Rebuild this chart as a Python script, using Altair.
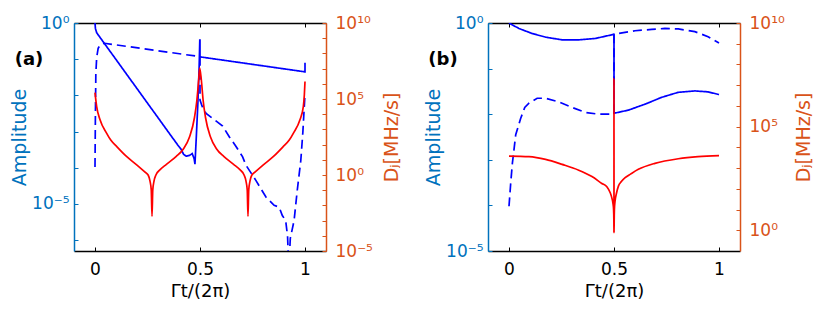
import altair as alt
import pandas as pd

FONT = "DejaVu Sans"
AX_BLUE = "#0072BD"
AX_ORANGE = "#D95319"
LINE_BLUE = "#0000FF"
LINE_RED = "#FF0000"

X_DOMAIN = [-0.1, 1.1]
X_TICKS = [0, 0.5, 1]

# ---------------- panel (a) ----------------
A_SOLID_T = [0, 0.002, 0.008, 0.395, 0.41, 0.422, 0.434, 0.45, 0.463, 0.472, 0.476,
             0.482, 0.49, 0.496, 0.499, 0.5, 0.5, 0.505, 1.0, 1.0]
A_SOLID_LOG = [0, -0.15, -0.27, -3.38, -3.49, -3.63, -3.68, -3.66, -3.61, -3.75, -3.9,
               -3.2, -2.2, -1.2, -0.47, -0.47, -0.93, -0.94, -1.35, -1.1]
# blue dashed amplitude
A_DASH_T = [0, 0.002, 0.004, 0.008, 0.015, 0.025, 0.045, 0.5, 0.5, 0.51, 0.529, 0.561,
            0.608, 0.64, 0.67, 0.703, 0.719, 0.766, 0.814, 0.853, 0.877, 0.892, 0.908,
            0.917, 0.923, 0.93, 0.948, 0.963, 0.98, 0.99, 1.0]
A_DASH_LOG = [-3.98, -2.5, -1.4, -0.95, -0.7, -0.6, -0.56, -0.93, -2.13, -2.3, -2.5, -2.64,
              -2.85, -3.15, -3.4, -3.7, -3.93, -4.35, -4.81, -5.04, -5.09, -5.32, -5.46,
              -5.9, -6.8, -5.95, -5.46, -4.63, -3.8, -3.0, -1.95]
A_RED_T = [0, 0.008, 0.024, 0.055, 0.075, 0.103, 0.15, 0.2, 0.237, 0.253, 0.262, 0.268,
           0.2715, 0.275, 0.281, 0.29, 0.31, 0.34, 0.387, 0.42, 0.45, 0.474, 0.485, 0.494,
           0.4985, 0.506, 0.515, 0.526, 0.55, 0.58, 0.613, 0.66, 0.69, 0.71, 0.719, 0.725,
           0.7285, 0.732, 0.738, 0.747, 0.763, 0.8, 0.85, 0.897, 0.925, 0.945, 0.976, 0.992,
           0.997, 1.0]
A_RED_LOG = [5.42, 4.5, 3.63, 2.76, 2.3, 1.88, 1.22, 0.65, 0.2, 0.0, -0.4, -1.0,
             -2.72, -1.0, -0.4, 0.0, 0.35, 0.7, 1.22, 1.7, 2.5, 3.8, 4.9, 6.3,
             7.03, 6.3, 4.9, 3.8, 2.5, 1.7, 1.22, 0.7, 0.35, 0.0, -0.4, -1.0,
             -2.72, -1.0, -0.4, 0.0, 0.2, 0.65, 1.22, 1.88, 2.3, 2.76, 3.63, 4.5,
             5.3, 6.15]

# ---------------- panel (b) ----------------
B_SOLID_T = [0, 0.047, 0.11, 0.174, 0.253, 0.332, 0.41, 0.498, 0.5, 0.5, 0.569, 0.648,
             0.727, 0.806, 0.885, 0.948, 1.0]
B_SOLID_LOG = [0, -0.12, -0.23, -0.31, -0.37, -0.37, -0.34, -0.25, -0.25, -1.98, -1.91,
               -1.78, -1.63, -1.52, -1.49, -1.51, -1.57]
B_DASH_T = [0, 0.008, 0.016, 0.032, 0.055, 0.075, 0.095, 0.134, 0.174, 0.237, 0.3, 0.363,
            0.427, 0.49, 0.5, 0.5, 0.521, 0.6, 0.68, 0.742, 0.806, 0.885, 0.948, 1.0]
B_DASH_LOG = [-4.02, -3.52, -3.08, -2.45, -2.1, -1.85, -1.76, -1.65, -1.65, -1.73, -1.85,
              -1.96, -2.0, -2.0, -1.98, -0.25, -0.23, -0.17, -0.14, -0.12, -0.13, -0.19,
              -0.30, -0.44]
B_RED_T = [0, 0.095, 0.174, 0.253, 0.332, 0.395, 0.442, 0.466, 0.482, 0.49, 0.495, 0.498,
           0.4993, 0.4998, 0.5, 0.5002, 0.501, 0.502, 0.505, 0.511, 0.521, 0.535, 0.553,
           0.58, 0.616, 0.695, 0.806, 0.9, 1.0]
B_RED_LOG = [3.58, 3.55, 3.42, 3.18, 2.9, 2.59, 2.26, 2.1, 1.81, 1.55, 1.3, 1.0,
             0.5, -0.11, 7.32, -0.11, 0.53, 1.01, 1.4, 1.75, 2.13, 2.35, 2.54,
             2.72, 2.94, 3.23, 3.45, 3.55, 3.6]

# axis ranges and ticks (exponents of 10)
A_LEFT_DOMAIN = [5e-7, 1]
A_LEFT_TICK_EXP = [0, -1, -2, -3, -4, -5, -6]
A_LEFT_LABEL_EXP = [0, -5]
A_RIGHT_DOMAIN = [1e-5, 1e10]
A_RIGHT_TICK_EXP = list(range(10, -6, -1))
A_RIGHT_LABEL_EXP = [10, 5, 0, -5]

B_LEFT_DOMAIN = [1e-5, 1]
B_LEFT_TICK_EXP = [0, -1, -2, -3, -4, -5]
B_LEFT_LABEL_EXP = [0, -5]
B_RIGHT_DOMAIN = [1e-1, 1e10]
B_RIGHT_TICK_EXP = list(range(10, -1, -1))
B_RIGHT_LABEL_EXP = [10, 5, 0]

SUP = {"0": "⁰", "1": "¹", "2": "²", "3": "³", "4": "⁴", "5": "⁵", "6": "⁶",
       "7": "⁷", "8": "⁸", "9": "⁹", "-": "⁻"}


def sup_label(e):
    return "10" + "".join(SUP[c] for c in str(e))


def label_expr(exps):
    expr = "''"
    for e in exps:
        expr = f"round(log(datum.value)/LN10) == {e} ? '{sup_label(e)}' : ({expr})"
    return expr


def blue_frame(st, sl, dt, dl):
    rows = []
    i = 0
    for t, l in zip(st, sl):
        rows.append({"t": t, "A": 10 ** l, "style": "solid", "i": i}); i += 1
    for t, l in zip(dt, dl):
        rows.append({"t": t, "A": 10 ** l, "style": "dashed", "i": i}); i += 1
    return pd.DataFrame(rows)


def red_frame(rt, rl):
    return pd.DataFrame({"t": rt, "D": [10 ** v for v in rl], "i": list(range(len(rt)))})


W, H = 252, 228
XS = alt.Scale(domain=X_DOMAIN, nice=False, zero=False)
TICK = 4
LW = 1.7


def panel(tag, bdf, rdf, ldom, ltick, llab, rdom, rtick, rlab):
    lscale = alt.Scale(type="log", domain=ldom, nice=False)
    rscale = alt.Scale(type="log", domain=rdom, nice=False)

    blue = alt.Chart(bdf).mark_line(strokeWidth=LW, color=LINE_BLUE, clip=True).encode(
        x=alt.X("t:Q", scale=XS, axis=alt.Axis(
            orient="bottom", values=X_TICKS, format="~g", title="Γt/(2π)",
            ticks=False, tickSize=0, domainColor="black", domainWidth=1.5,
            labelColor="black", labelFont=FONT, labelFontSize=17, labelPadding=10,
            titleFont=FONT, titleFontSize=18, titleFontWeight="normal",
            titleColor="black", titlePadding=5, grid=False)),
        y=alt.Y("A:Q", scale=lscale, axis=alt.Axis(
            orient="left", values=[10.0 ** e for e in llab], labelExpr=label_expr(llab),
            title="Amplitude", ticks=False, tickSize=0, domainColor=AX_BLUE,
            domainWidth=1.5, labelColor=AX_BLUE, labelFont=FONT, labelFontSize=17,
            labelPadding=5, titleFont=FONT, titleFontSize=19, titleFontWeight="normal",
            titleColor=AX_BLUE, titlePadding=2, grid=False)),
        strokeDash=alt.StrokeDash("style:N", scale=alt.Scale(
            domain=["solid", "dashed"], range=[[1, 0], [9, 5]]), legend=None),
        order="i:Q",
    )

    red = alt.Chart(rdf).mark_line(strokeWidth=LW, color=LINE_RED, clip=True,
                                   interpolate="monotone").encode(
        x=alt.X("t:Q", scale=XS, axis=alt.Axis(
            orient="top", labels=False, ticks=False, tickSize=0, title=None,
            domainColor="black", domainWidth=1.5, grid=False)),
        y=alt.Y("D:Q", scale=rscale, axis=alt.Axis(
            orient="right", values=[10.0 ** e for e in rlab], labelExpr=label_expr(rlab),
            title="Dⱼ[MHz/s]", ticks=False, tickSize=0, domainColor=AX_ORANGE,
            domainWidth=1.5, labelColor=AX_ORANGE, labelFont=FONT, labelFontSize=17,
            labelPadding=9, titleFont=FONT, titleFontSize=19, titleFontWeight="normal",
            titleColor=AX_ORANGE, titlePadding=10, titleAngle=270,
            titleBaseline="top", grid=False)),
        order="i:Q",
    )

    # inward tick marks (MATLAB style) drawn as offset axes
    lt = alt.Chart(bdf).mark_point(opacity=0).encode(
        x=alt.X("t:Q", scale=XS, axis=alt.Axis(
            orient="bottom", values=X_TICKS, offset=-TICK, tickSize=TICK, domain=False,
            labels=False, title=None, tickColor="black", grid=False)),
        y=alt.Y("A:Q", scale=lscale, axis=alt.Axis(
            orient="left", values=[10.0 ** e for e in ltick], offset=-TICK, tickSize=TICK,
            domain=False, labels=False, title=None, tickColor=AX_BLUE, grid=False)),
    )
    rt = alt.Chart(rdf).mark_point(opacity=0).encode(
        x=alt.X("t:Q", scale=XS, axis=alt.Axis(
            orient="top", values=X_TICKS, offset=-TICK, tickSize=TICK, domain=False,
            labels=False, title=None, tickColor="black", grid=False)),
        y=alt.Y("D:Q", scale=rscale, axis=alt.Axis(
            orient="right", values=[10.0 ** e for e in rtick], offset=-TICK, tickSize=TICK,
            domain=False, labels=False, title=None, tickColor=AX_ORANGE, grid=False)),
    )

    lab = alt.Chart(pd.DataFrame({"tag": [tag]})).mark_text(
        font=FONT, fontSize=18, fontWeight="bold", color="black", align="center",
        baseline="middle").encode(text="tag:N", x=alt.value(-45), y=alt.value(37))

    return alt.layer(blue, red, lt, rt, lab).resolve_scale(y="independent").resolve_axis(
        x="independent", y="independent").properties(width=W, height=H)


pa = panel("(a)", blue_frame(A_SOLID_T, A_SOLID_LOG, A_DASH_T, A_DASH_LOG),
           red_frame(A_RED_T, A_RED_LOG), A_LEFT_DOMAIN, A_LEFT_TICK_EXP, A_LEFT_LABEL_EXP,
           A_RIGHT_DOMAIN, A_RIGHT_TICK_EXP, A_RIGHT_LABEL_EXP)
pb = panel("(b)", blue_frame(B_SOLID_T, B_SOLID_LOG, B_DASH_T, B_DASH_LOG),
           red_frame(B_RED_T, B_RED_LOG), B_LEFT_DOMAIN, B_LEFT_TICK_EXP, B_LEFT_LABEL_EXP,
           B_RIGHT_DOMAIN, B_RIGHT_TICK_EXP, B_RIGHT_LABEL_EXP)

chart = alt.hconcat(pa, pb, spacing=22).configure(
    padding={"left": 2, "top": 6, "right": 0, "bottom": 0}
).configure_view(stroke=None)

chart.save("out.html", embed_options={"renderer": "svg", "actions": False})
